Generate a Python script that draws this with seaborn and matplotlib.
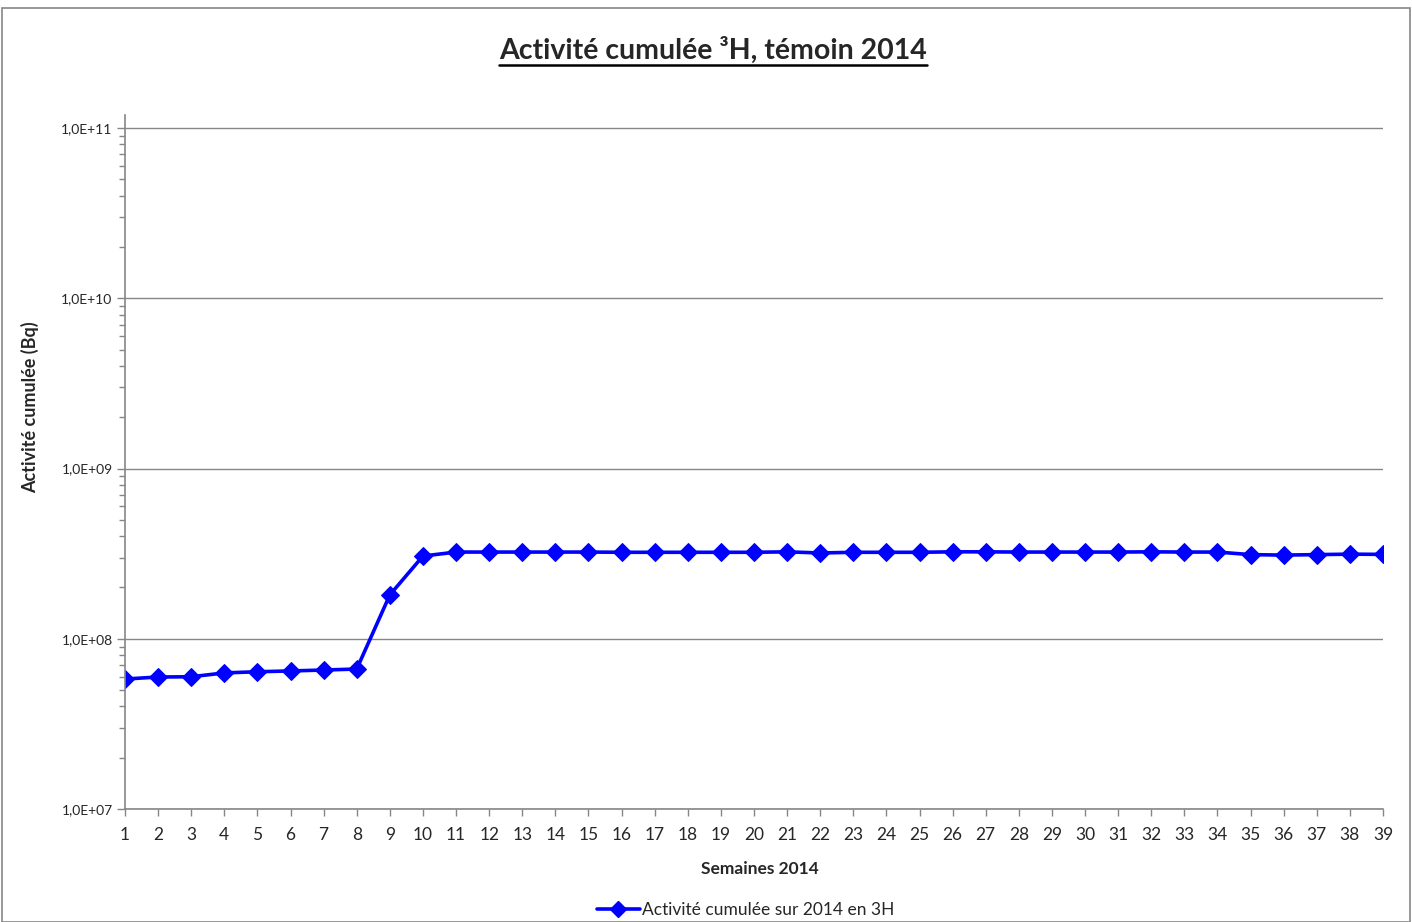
import numpy as np
import pandas as pd
import seaborn as sns
import matplotlib.pyplot as plt
from matplotlib.ticker import FuncFormatter, LogLocator, NullFormatter
from matplotlib.lines import Line2D
from matplotlib.patches import Rectangle

# Weekly cumulative tritium activity
weeks = list(range(1, 40))
activity = [
    5.8e7, 5.96e7, 5.98e7, 6.3e7, 6.4e7, 6.47e7, 6.55e7, 6.64e7,
    1.81e8, 3.06e8,
    3.23e8, 3.23e8, 3.23e8, 3.23e8, 3.23e8, 3.22e8, 3.22e8, 3.22e8,
    3.22e8, 3.22e8, 3.24e8, 3.19e8, 3.22e8, 3.22e8, 3.22e8, 3.24e8,
    3.24e8, 3.23e8, 3.23e8, 3.23e8, 3.23e8, 3.24e8, 3.23e8, 3.23e8,
    3.12e8, 3.10e8, 3.12e8, 3.14e8, 3.13e8,
]
series_label = "Activité cumulée sur 2014 en 3H"
title = "Activité cumulée ³H, témoin 2014"

df = pd.DataFrame({"semaine": weeks, "activite": activity, "serie": series_label})

sns.set_style("white")
plt.rcParams['font.family'] = ['Lato', 'DejaVu Sans']

fig = plt.figure(figsize=(14.12, 9.22), dpi=100)
W, H = 1412, 922
# axes top at 115 px: the value axis runs a little above 1,0E+11 as in the original
ax = fig.add_axes([125 / W, (H - 809) / H, (1383 - 125) / W, (809 - 115) / H])

sns.lineplot(data=df, x="semaine", y="activite", hue="serie", palette=["#0000FF"],
             marker="D", markersize=9, markeredgecolor="#0000FF", linewidth=2.6,
             ax=ax, legend=False)

ax.set_yscale("log")
ax.set_ylim(1e7, 10 ** (11 + 13 / 170.25))
ax.set_xlim(1, 39)
ax.set_xticks(weeks)
ax.yaxis.set_major_locator(LogLocator(base=10, numticks=10))
ax.yaxis.set_minor_locator(LogLocator(base=10, subs=np.arange(2, 10), numticks=20))
ax.yaxis.set_minor_formatter(NullFormatter())
ax.yaxis.set_major_formatter(FuncFormatter(lambda v, p: f"1,0E+{int(round(np.log10(v))):02d}"))

ax.grid(axis="y", which="major", color="#868686", linewidth=1)
ax.grid(axis="x", visible=False)
for s in ["top", "right"]:
    ax.spines[s].set_visible(False)
for s in ["left", "bottom"]:
    ax.spines[s].set_color("#868686")
    ax.spines[s].set_linewidth(1.2)
ax.tick_params(axis="y", which="major", direction="out", length=6, color="#868686",
               width=1, labelsize=10, left=True, pad=3)
ax.tick_params(axis="y", which="minor", direction="out", length=4, color="#868686",
               width=1, left=True)
ax.tick_params(axis="x", direction="out", length=5, color="#868686", width=1,
               labelsize=12.5, bottom=True, pad=8)

ax.set_xlabel("Semaines 2014", fontsize=12.5, fontweight="bold")
ax.xaxis.set_label_coords((760 - 125) / (1383 - 125), -(869 - 809) / (809 - 115))
ax.set_ylabel("Activité cumulée (Bq)", fontsize=13, fontweight="bold", labelpad=0)
ax.yaxis.set_label_coords(-86 / (1383 - 125), (809 - 407) / (809 - 115))
ax.xaxis.label.set_verticalalignment("center")

# title, underlined
t = fig.text(0.505, 1 - 50 / H, title, ha="center", va="center", fontsize=20.5,
             fontweight="bold")
fig.canvas.draw()
bb = t.get_window_extent(renderer=fig.canvas.get_renderer())
y_line = (H - 65) / H
fig.add_artist(Line2D([bb.x0 / W, bb.x1 / W], [y_line, y_line], color="black",
                      linewidth=1.8, transform=fig.transFigure))

# legend at bottom
handle = Line2D([], [], color="#0000FF", marker="D", markersize=8, linewidth=2.6)
fig.legend([handle], [series_label], loc="center", bbox_to_anchor=(0.528, 1 - 910 / H),
           frameon=False, fontsize=12.5, handlelength=2.5, handletextpad=0.1)

# chart border
fig.add_artist(Rectangle((2 / W, 0), (W - 4) / W, (H - 8) / H, fill=False,
                         edgecolor="#868686", linewidth=1.2, transform=fig.transFigure))

fig.savefig("out.png", dpi=100)
